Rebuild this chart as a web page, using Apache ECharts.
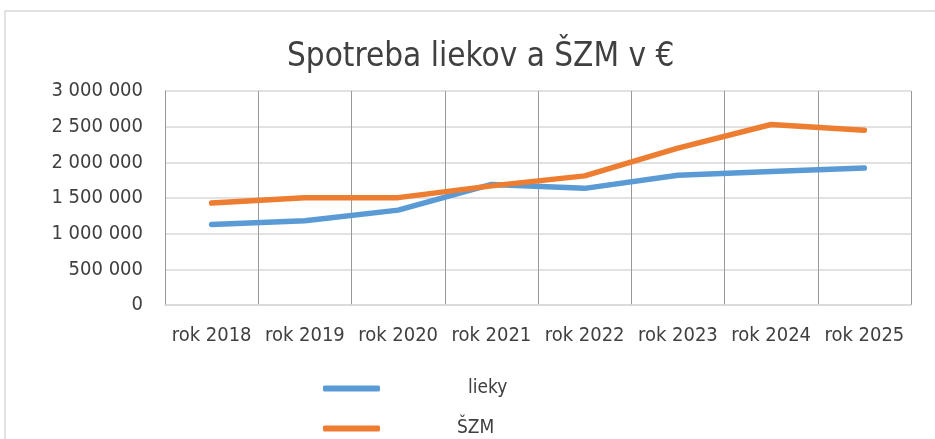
<!DOCTYPE html>
<html>
<head>
<meta charset="utf-8">
<script src="https://cdn.jsdelivr.net/npm/echarts@6/dist/echarts.min.js"></script>
<style>
  html, body { margin: 0; padding: 0; background: #fff; }
  #chart { width: 935px; height: 439px; }
</style>
</head>
<body>
<div id="chart"></div>
<script>
var years = ['rok 2018', 'rok 2019', 'rok 2020', 'rok 2021', 'rok 2022', 'rok 2023', 'rok 2024', 'rok 2025']
var lieky = [1130000, 1180000, 1330000, 1690000, 1635000, 1820000, 1870000, 1920000]
var szm = [1430000, 1505000, 1505000, 1670000, 1810000, 2200000, 2530000, 2450000]
var fontName = '"Liberation Sans Narrow", "DejaVu Sans Condensed", "Noto Sans", sans-serif'

function legendFor (name, top, gap) {
  return {
    left: 323,
    top: top,
    padding: 0,
    itemWidth: 57,
    itemHeight: 6,
    icon: 'roundRect',
    textStyle: { fontFamily: fontName, fontSize: 19, color: '#404040', padding: [0, 0, 0, gap] },
    data: [name]
  }
}

var chart = echarts.init(document.getElementById('chart'))
var option = {
  animation: false,
  title: {
    text: 'Spotreba liekov a ŠZM v €',
    left: 282,
    top: 36,
    textStyle: { fontFamily: fontName, fontSize: 33, fontWeight: 'normal', color: '#404040' }
  },
  graphic: [{
    // outer chart frame (left/top edges visible)
    type: 'polyline',
    shape: { points: [[5, 439], [5, 11], [935, 11]] },
    style: { stroke: '#d9d9d9', lineWidth: 1.5, fill: null }
  }],
  legend: [legendFor('lieky', 379, 83), legendFor('ŠZM', 419, 72)],
  grid: { left: 165, right: 24, top: 91, bottom: 134 },
  xAxis: {
    type: 'category',
    data: years,
    boundaryGap: true,
    axisLine: { lineStyle: { color: '#d9d9d9', width: 1.5 } },
    axisTick: { show: false },
    axisLabel: { fontFamily: fontName, fontSize: 20, color: '#404040', margin: 21, interval: 0 },
    splitLine: { show: true, interval: 0, lineStyle: { color: '#999999', width: 1 } }
  },
  yAxis: {
    type: 'value',
    min: 0,
    max: 3000000,
    interval: 500000,
    axisLine: { show: true, lineStyle: { color: '#999999' } },
    axisTick: { show: false },
    axisLabel: {
      fontFamily: fontName, fontSize: 20, color: '#404040', margin: 22,
      formatter: function (v) { return String(v).replace(/\B(?=(\d{3})+(?!\d))/g, ' ') }
    },
    splitLine: { lineStyle: { color: '#d9d9d9', width: 1.5 } }
  },
  series: [{
    name: 'lieky',
    type: 'line',
    data: lieky,
    showSymbol: false,
    color: '#5b9bd5',
    lineStyle: { width: 5.5, cap: 'round', join: 'round' }
  }, {
    name: 'ŠZM',
    type: 'line',
    data: szm,
    showSymbol: false,
    color: '#ed7d31',
    lineStyle: { width: 5.5, cap: 'round', join: 'round' }
  }]
}
chart.setOption(option)
</script>
</body>
</html>
